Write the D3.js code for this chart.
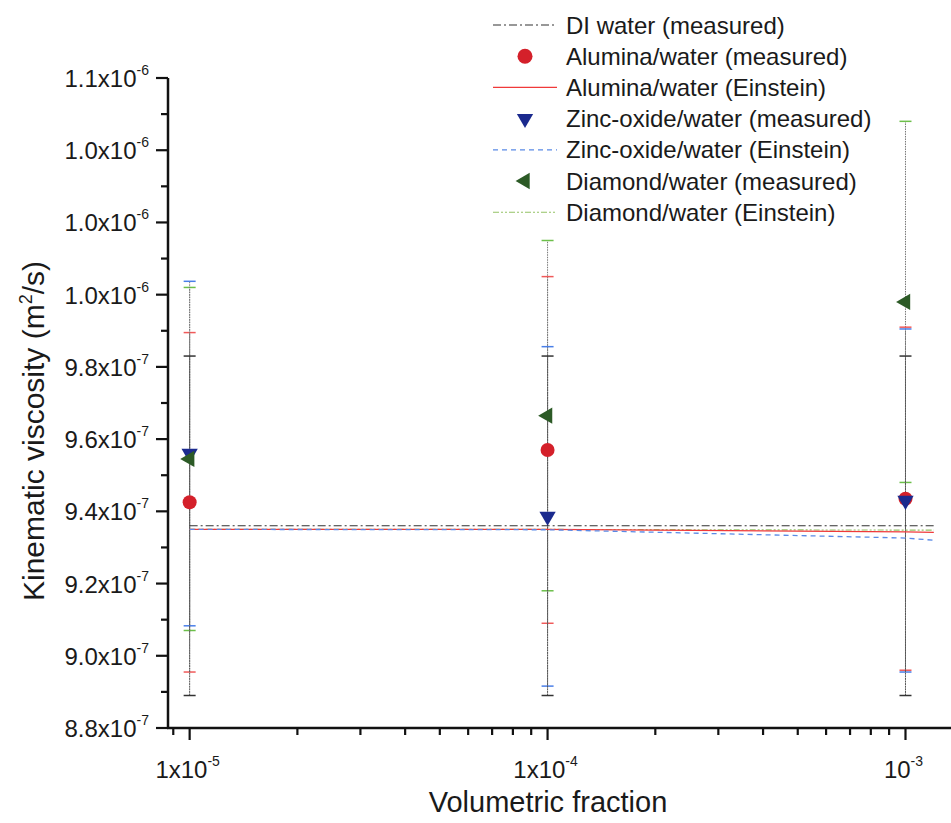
<!DOCTYPE html>
<html>
<head>
<meta charset="utf-8">
<script src="https://cdn.jsdelivr.net/npm/d3@7"></script>
<style>
  html, body { margin: 0; padding: 0; background: #ffffff; }
  svg { display: block; }
  text { font-family: "Liberation Sans", Arial, sans-serif; fill: #1a1a1a; }
</style>
</head>
<body>
<svg id="chart" width="951" height="823"></svg>
<script>
// ---------------- data ----------------
const phi = [1e-5, 1e-4, 1e-3];
const diWater = [9.36e-7, 9.36e-7, 9.36e-7];
const diWaterErr = [4.7e-8, 4.7e-8, 4.7e-8];
const aluminaMeasured = [9.425e-7, 9.57e-7, 9.435e-7];
const aluminaErr = [4.7e-8, 4.8e-8, 4.75e-8];
const zincMeasured = [9.56e-7, 9.386e-7, 9.43e-7];
const zincErr = [4.77e-8, 4.7e-8, 4.75e-8];
const diamondMeasured = [9.545e-7, 9.665e-7, 9.98e-7];
const diamondErr = [4.75e-8, 4.85e-8, 5.0e-8];

const linePhi = [1e-5, 1e-4, 1e-3, 1.2e-3];
const diWaterLine = [9.36e-7, 9.36e-7, 9.36e-7, 9.36e-7];
const aluminaEinstein = [9.35e-7, 9.35e-7, 9.343e-7, 9.342e-7];
const zincEinstein = [9.35e-7, 9.349e-7, 9.326e-7, 9.32e-7];
const diamondEinstein = [9.35e-7, 9.35e-7, 9.348e-7, 9.348e-7];

const yTicks = [8.8e-7, 9.0e-7, 9.2e-7, 9.4e-7, 9.6e-7, 9.8e-7, 1.0e-6, 1.02e-6, 1.04e-6, 1.06e-6];
const yMinorTicks = [8.9e-7, 9.1e-7, 9.3e-7, 9.5e-7, 9.7e-7, 9.9e-7, 1.01e-6, 1.03e-6, 1.05e-6];
const yTickMantissa = ["8.8", "9.0", "9.2", "9.4", "9.6", "9.8", "1.0", "1.0", "1.0", "1.1"];
const yTickExp = ["-7", "-7", "-7", "-7", "-7", "-7", "-6", "-6", "-6", "-6"];

const xTicks = [1e-5, 1e-4, 1e-3];
const xMinorTicks = [9e-6, 2e-5, 3e-5, 4e-5, 5e-5, 6e-5, 7e-5, 8e-5, 9e-5,
                     2e-4, 3e-4, 4e-4, 5e-4, 6e-4, 7e-4, 8e-4, 9e-4];
const xTickBase = ["1x10", "1x10", "10"];
const xTickExp = ["-5", "-4", "-3"];

const xDomain = [8.7e-6, 1.42e-3];
const yDomain = [8.8e-7, 1.06e-6];

const legendLabels = [
  "DI water (measured)",
  "Alumina/water (measured)",
  "Alumina/water (Einstein)",
  "Zinc-oxide/water (measured)",
  "Zinc-oxide/water (Einstein)",
  "Diamond/water (measured)",
  "Diamond/water (Einstein)"
];

// ---------------- layout ----------------
const svg = d3.select("#chart");
const pLeft = 168, pRight = 960, pTop = 78, pBottom = 728;

const x = d3.scaleLog().domain(xDomain).range([pLeft, pRight]);
const y = d3.scaleLinear().domain(yDomain).range([pBottom, pTop]);

const colors = {
  alumina: "#d4202a", aluminaBar: "#f05a5a", aluminaLine: "#f03a3a",
  zinc: "#1b2a8e", zincBar: "#4a7fe8", zincLine: "#5a8ae6",
  diamond: "#2c5a26", diamondBar: "#6cbf4a", diamondLine: "#94c266"
};

// ---------------- error bars ----------------
const plot = svg.append("g");
function errorBars(vals, errs, capColor, stemColor, stemDash) {
  const g = plot.append("g");
  phi.forEach((p, i) => {
    const cx = x(p);
    g.append("line")
      .attr("x1", cx).attr("x2", cx)
      .attr("y1", y(vals[i] - errs[i])).attr("y2", y(vals[i] + errs[i]))
      .attr("stroke", stemColor).attr("stroke-width", 1)
      .attr("stroke-dasharray", stemDash);
    [vals[i] - errs[i], vals[i] + errs[i]].forEach(v => {
      g.append("line")
        .attr("x1", cx - 6).attr("x2", cx + 6)
        .attr("y1", y(v)).attr("y2", y(v))
        .attr("stroke", capColor).attr("stroke-width", 1.5);
    });
  });
}
errorBars(diamondMeasured, diamondErr, colors.diamondBar, "#777", "1.5,1");
errorBars(aluminaMeasured, aluminaErr, colors.aluminaBar, "#777", "1.5,1");
errorBars(zincMeasured, zincErr, colors.zincBar, "#777", "1.5,1");
errorBars(diWater, diWaterErr, "#333", "#555", "2,0.6");

// ---------------- lines ----------------
const lineGen = d3.line().x(d => x(d[0])).y(d => y(d[1]));
function drawLine(xs, ys, color, dash, w) {
  plot.append("path")
    .attr("d", lineGen(xs.map((p, i) => [p, ys[i]])))
    .attr("fill", "none").attr("stroke", color)
    .attr("stroke-width", w).attr("stroke-dasharray", dash);
}
drawLine(linePhi, diWaterLine, "#333", "8,3,2,3", 1.1);
drawLine(linePhi, diamondEinstein, colors.diamondLine, "6,2,2,2,2,2", 1.1);
drawLine(linePhi, aluminaEinstein, colors.aluminaLine, null, 1.2);
drawLine(linePhi, zincEinstein, colors.zincLine, "5,4", 1.3);

// ---------------- markers ----------------
const triPath = d3.symbol().type(d3.symbolTriangle).size(115)();
plot.selectAll(".al").data(phi).join("circle")
  .attr("cx", d => x(d)).attr("cy", (d, i) => y(aluminaMeasured[i]))
  .attr("r", 7).attr("fill", colors.alumina);
plot.selectAll(".zn").data(phi).join("path")
  .attr("d", triPath)
  .attr("transform", (d, i) => `translate(${x(d)},${y(zincMeasured[i])}) rotate(180)`)
  .attr("fill", colors.zinc);
plot.selectAll(".dm").data(phi).join("path")
  .attr("d", triPath)
  .attr("transform", (d, i) => `translate(${x(d)},${y(diamondMeasured[i])}) rotate(-90)`)
  .attr("fill", colors.diamond);

// ---------------- axes ----------------
const axes = svg.append("g");
// y axis
axes.append("line").attr("x1", pLeft).attr("x2", pLeft).attr("y1", y(yDomain[1])).attr("y2", pBottom)
  .attr("stroke", "#111").attr("stroke-width", 2.5);
yTicks.forEach((t, i) => {
  axes.append("line").attr("x1", pLeft - 12).attr("x2", pLeft).attr("y1", y(t)).attr("y2", y(t))
    .attr("stroke", "#111").attr("stroke-width", 2.2);
  const tx = axes.append("text").attr("x", 149).attr("y", y(t) + 9)
    .attr("text-anchor", "end").attr("font-size", 24);
  tx.append("tspan").text(yTickMantissa[i] + "x10");
  tx.append("tspan").attr("dy", -12).attr("font-size", 14).text(yTickExp[i]);
});
yMinorTicks.forEach(t => {
  axes.append("line").attr("x1", pLeft - 7).attr("x2", pLeft).attr("y1", y(t)).attr("y2", y(t))
    .attr("stroke", "#111").attr("stroke-width", 2.2);
});
// x axis
axes.append("line").attr("x1", pLeft - 1).attr("x2", pRight).attr("y1", pBottom).attr("y2", pBottom)
  .attr("stroke", "#111").attr("stroke-width", 2.5);
xTicks.forEach((t, i) => {
  axes.append("line").attr("x1", x(t)).attr("x2", x(t)).attr("y1", pBottom).attr("y2", pBottom + 12)
    .attr("stroke", "#111").attr("stroke-width", 2.2);
  const tx = axes.append("text").attr("x", x(t) - 2).attr("y", pBottom + 50)
    .attr("text-anchor", "middle").attr("font-size", 24);
  tx.append("tspan").text(xTickBase[i]);
  tx.append("tspan").attr("dy", -12).attr("font-size", 14).text(xTickExp[i]);
});
xMinorTicks.forEach(t => {
  axes.append("line").attr("x1", x(t)).attr("x2", x(t)).attr("y1", pBottom).attr("y2", pBottom + 7)
    .attr("stroke", "#111").attr("stroke-width", 2.2);
});

// titles
axes.append("text").attr("x", 548).attr("y", 812).attr("text-anchor", "middle")
  .attr("font-size", 29).text("Volumetric fraction");
const yt = axes.append("text").attr("transform", "translate(44,431) rotate(-90)")
  .attr("text-anchor", "middle").attr("font-size", 30);
yt.append("tspan").text("Kinematic viscosity (m");
yt.append("tspan").attr("dy", -12).attr("font-size", 18).text("2");
yt.append("tspan").attr("dy", 12).text("/s)");

// ---------------- legend ----------------
const leg = svg.append("g");
const rowY = i => 25 + i * 31.2;
const sx1 = 493, sx2 = 557, mx = 525, textX = 566;
legendLabels.forEach((lab, i) => {
  leg.append("text").attr("x", textX).attr("y", rowY(i) + 8.5)
    .attr("font-size", 24).text(lab);
});
function legLine(i, color, dash, w) {
  leg.append("line").attr("x1", sx1).attr("x2", sx2).attr("y1", rowY(i)).attr("y2", rowY(i))
    .attr("stroke", color).attr("stroke-width", w).attr("stroke-dasharray", dash);
}
legLine(0, "#333", "8,3,2,3", 1.1);
leg.append("circle").attr("cx", mx).attr("cy", rowY(1)).attr("r", 7.5).attr("fill", colors.alumina);
legLine(2, colors.aluminaLine, null, 1.2);
leg.append("path").attr("d", triPath).attr("transform", `translate(${mx},${rowY(3)}) rotate(180)`).attr("fill", colors.zinc);
legLine(4, colors.zincLine, "5,4", 1.3);
leg.append("path").attr("d", triPath).attr("transform", `translate(${mx},${rowY(5)}) rotate(-90)`).attr("fill", colors.diamond);
legLine(6, colors.diamondLine, "6,2,2,2,2,2", 1.1);
</script>
</body>
</html>
